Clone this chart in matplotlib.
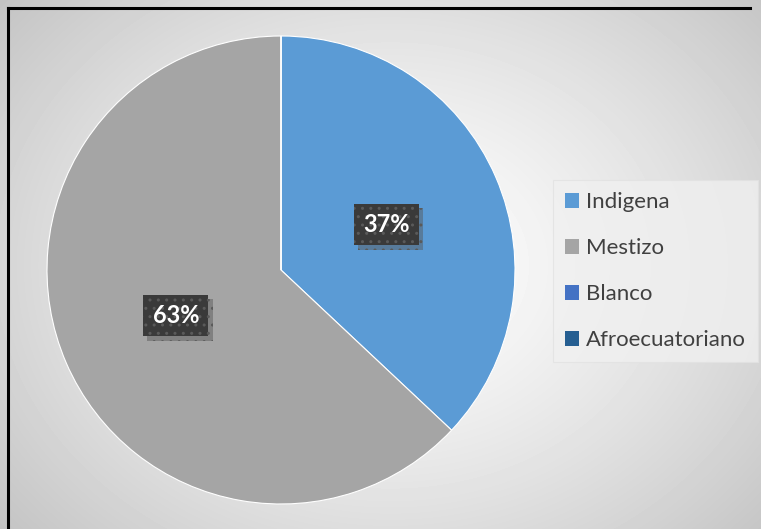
import numpy as np
import matplotlib.pyplot as plt
from matplotlib.patches import Patch
from matplotlib.lines import Line2D
from matplotlib import patheffects

# data
labels = ['Indigena', 'Mestizo', 'Blanco', 'Afroecuatoriano']
values = [37, 63, 0, 0]
colors = ['#5B9BD5', '#A5A5A5', '#4472C4', '#255E91']

W, H = 761, 529
fig = plt.figure(figsize=(W / 100, H / 100), dpi=100)

# radial grey background
bg = fig.add_axes([0, 0, 1, 1])
yy, xx = np.mgrid[0:H, 0:W]
d = np.sqrt(((xx - 390) / 520.0) ** 2 + ((yy - 265) / 420.0) ** 2)
shade = 1.0 - 0.24 * np.clip(d, 0, 1) ** 1.3
bg.imshow(shade, cmap='gray', vmin=0, vmax=1, extent=[0, W, H, 0], aspect='auto')
bg.set_xlim(0, W)
bg.set_ylim(H, 0)
bg.axis('off')

# black frame, only top and left visible
fx, fy = 8 / W, 1 - 8 / H
fig.add_artist(Line2D([fx, fx], [0, fy], transform=fig.transFigure, color='black', lw=2.2))
fig.add_artist(Line2D([fx, 750 / W], [fy, fy], transform=fig.transFigure, color='black', lw=2.2))

# pie
cx, cy, r = 281, 270, 234
ax = fig.add_axes([(cx - r) / W, (H - cy - r) / H, 2 * r / W, 2 * r / H])
wedges, texts, autotexts = ax.pie(
    values, colors=colors, startangle=90, counterclock=False,
    autopct=lambda p: f'{p:.0f}%' if p > 0 else '', pctdistance=0.49,
    wedgeprops=dict(edgecolor='white', linewidth=0.8),
    textprops=dict(color='white', fontsize=17, fontweight='bold', family='Lato'))
ax.set_xlim(-1, 1)
ax.set_ylim(-1, 1)
ax.set_aspect('equal')

for t in autotexts:
    if t.get_text():
        t.set_bbox(dict(boxstyle='square,pad=0.4', facecolor='#3a3a3a',
                        edgecolor='#5a5a5a', linewidth=0, hatch='..'))
        t.get_bbox_patch().set_path_effects([
            patheffects.withSimplePatchShadow(offset=(3, -3), shadow_rgbFace='#555555', alpha=0.45),
            patheffects.Normal()])

# legend
handles = [Patch(facecolor=c, edgecolor='none') for c in colors]
leg = fig.legend(handles, labels, loc='upper left',
                 bbox_to_anchor=(553 / W, 1 - 180 / H),
                 frameon=True, labelspacing=1.17,
                 handlelength=0.64, handleheight=0.64, handletextpad=0.3,
                 borderpad=0.55, borderaxespad=0, fancybox=False,
                 prop=dict(family='Lato', size=16))
leg.get_frame().set_facecolor('#f0f0f0')
leg.get_frame().set_edgecolor('#e2e2e2')
leg.get_frame().set_linewidth(0.8)
for t in leg.get_texts():
    t.set_color('#404040')

fig.savefig('out.png', dpi=100)
